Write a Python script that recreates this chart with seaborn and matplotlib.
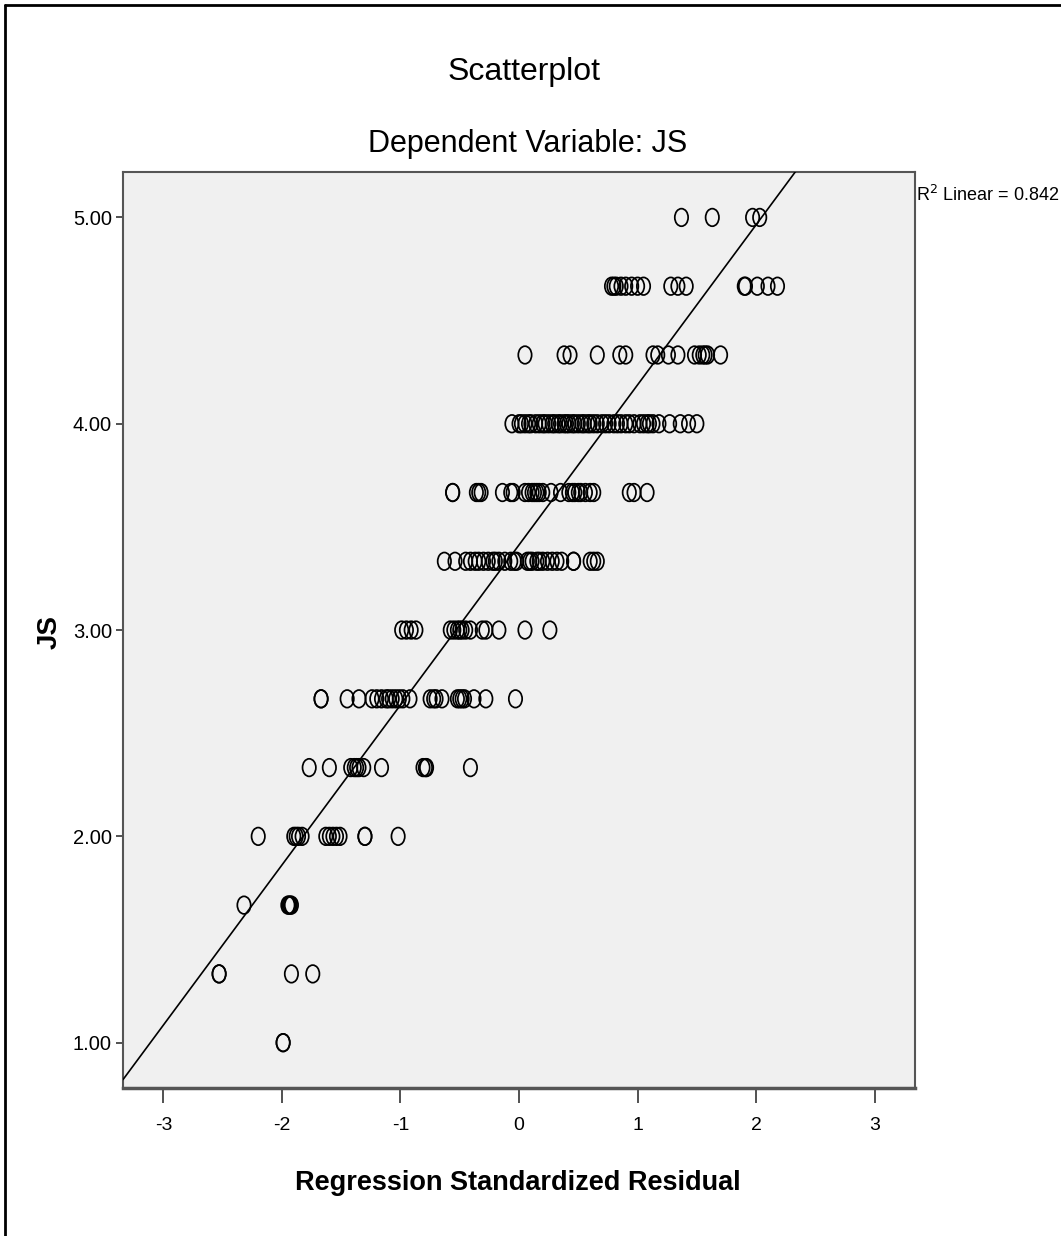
import numpy as np
import pandas as pd
import matplotlib
matplotlib.use("Agg")
import matplotlib.pyplot as plt
from matplotlib.path import Path
from matplotlib.transforms import Affine2D
from matplotlib.lines import Line2D
import seaborn as sns

# Standardized residuals observed at each JS score level
x_100 = [-1.99, -1.99]
x_133 = [-2.53, -2.53, -1.92, -1.74]
x_167 = [-2.32, -1.95, -1.94, -1.93, -1.92]
x_200 = [-2.20, -1.90, -1.88, -1.86, -1.83, -1.63, -1.60, -1.57, -1.54, -1.51,
         -1.30, -1.30, -1.02]
x_233 = [-1.77, -1.60, -1.42, -1.39, -1.37, -1.35, -1.31, -1.16, -0.81, -0.79,
         -0.78, -0.41]
x_267 = [-1.67, -1.67, -1.45, -1.35, -1.24, -1.20, -1.16, -1.12, -1.10, -1.07,
         -1.04, -1.01, -0.98, -0.92, -0.75, -0.72, -0.70, -0.65, -0.52, -0.50,
         -0.48, -0.46, -0.38, -0.28, -0.03]
x_300 = [-0.99, -0.95, -0.91, -0.87, -0.58, -0.55, -0.52, -0.50, -0.48, -0.45,
         -0.41, -0.31, -0.28, -0.17, 0.05, 0.26]
x_333 = [-0.63, -0.54, -0.45, -0.41, -0.37, -0.34, -0.30, -0.26, -0.22, -0.20,
         -0.17, -0.12, -0.07, -0.04, -0.02, 0.07, 0.09, 0.11, 0.15, 0.17,
         0.20, 0.24, 0.28, 0.32, 0.36, 0.46, 0.46, 0.60, 0.63, 0.66]
x_367 = [-0.56, -0.56, -0.36, -0.34, -0.32, -0.14, -0.07, -0.05, 0.05, 0.08,
         0.11, 0.13, 0.15, 0.17, 0.20, 0.27, 0.35, 0.42, 0.45, 0.47,
         0.50, 0.52, 0.56, 0.60, 0.63, 0.93, 0.97, 1.08]
x_400 = [-0.06, 0.00, 0.02, 0.05, 0.08, 0.10, 0.14, 0.17, 0.20, 0.22,
         0.25, 0.28, 0.30, 0.33, 0.35, 0.38, 0.40, 0.42, 0.45, 0.47,
         0.50, 0.53, 0.55, 0.58, 0.60, 0.63, 0.66, 0.70, 0.73, 0.76,
         0.80, 0.83, 0.86, 0.90, 0.93, 0.97, 1.02, 1.05, 1.08, 1.10,
         1.13, 1.18, 1.27, 1.36, 1.43, 1.50]
x_433 = [0.05, 0.38, 0.43, 0.66, 0.85, 0.90, 1.13, 1.17, 1.26, 1.34,
         1.48, 1.52, 1.55, 1.57, 1.59, 1.70]
x_467 = [0.78, 0.80, 0.82, 0.86, 0.90, 0.95, 1.00, 1.05, 1.28, 1.34,
         1.41, 1.90, 1.91, 2.01, 2.10, 2.18]
x_500 = [1.37, 1.63, 1.97, 2.03]

js_levels = [1.00, 4 / 3, 5 / 3, 2.00, 7 / 3, 8 / 3, 3.00, 10 / 3, 11 / 3,
             4.00, 13 / 3, 14 / 3, 5.00]
residual_groups = [x_100, x_133, x_167, x_200, x_233, x_267, x_300, x_333,
                   x_367, x_400, x_433, x_467, x_500]

x_ticks = [-3, -2, -1, 0, 1, 2, 3]
y_ticks = [1.00, 2.00, 3.00, 4.00, 5.00]
R2_LINEAR = 0.842

df = pd.DataFrame({
    "resid": [v for grp in residual_groups for v in grp],
    "JS": [lvl for lvl, grp in zip(js_levels, residual_groups) for _ in grp],
})

sns.set_theme(style="white")
plt.rcParams["font.family"] = ["Liberation Sans Narrow", "Liberation Sans", "DejaVu Sans"]
plt.rcParams["text.color"] = "black"
plt.rcParams["xtick.color"] = "black"
plt.rcParams["ytick.color"] = "black"

fig = plt.figure(figsize=(10.61, 12.36), dpi=100)
ax = fig.add_axes([0.116, 0.1197, 0.7464, 0.7411])
ax.set_facecolor("#f0f0f0")

# open oval marker
oval = Path.unit_circle().transformed(Affine2D().scale(0.76, 1.0))

ax.set_xlim(-3.34, 3.34)
ax.set_ylim(0.78, 5.22)

sns.scatterplot(data=df, x="resid", y="JS", ax=ax, marker=oval, s=160,
                facecolors="none", edgecolor="black", linewidth=1.25,
                legend=False, zorder=3)
sns.regplot(data=df, x="resid", y="JS", ax=ax, scatter=False, ci=None,
            truncate=False, line_kws=dict(color="black", lw=1.2, zorder=4))

ax.set_xlim(-3.34, 3.34)
ax.set_ylim(0.78, 5.22)
ax.set_xticks(x_ticks)
ax.set_xticklabels([str(t) for t in x_ticks])
ax.set_yticks(y_ticks)
ax.set_yticklabels([f"{t:.2f}" for t in y_ticks])
ax.tick_params(axis="x", direction="out", length=11, width=1.2, color="#333333",
               labelsize=14, pad=10, bottom=True)
ax.tick_params(axis="y", direction="out", length=5, width=1.2, color="#333333",
               labelsize=14.5, pad=3, left=True)
ax.set_xlabel("")
ax.set_ylabel("")
for side, sp in ax.spines.items():
    sp.set_visible(True)
    sp.set_color("#555555")
    sp.set_linewidth(1.5)
ax.spines["bottom"].set_linewidth(2.5)

fig.text(0.494, 0.935, "Scatterplot", ha="center", va="baseline", fontsize=23)
fig.text(0.497, 0.877, "Dependent Variable: JS", ha="center", va="baseline",
         fontsize=22)
fig.text(0.488, 0.037, "Regression Standardized Residual", ha="center",
         va="baseline", fontsize=19.5, fontweight="bold")
fig.text(0.047, 0.489, "JS", ha="center", va="center", rotation=90,
         fontsize=20, fontweight="bold")
fig.text(0.863, 0.842, f"R$^2$ Linear = {R2_LINEAR:.3f}", ha="left",
         va="center", fontsize=13)

# outer frame lines along the top and left edges
fig.add_artist(Line2D([0.005, 0.005], [0, 0.996], transform=fig.transFigure,
                      color="black", lw=2))
fig.add_artist(Line2D([0.005, 1.0], [0.996, 0.996], transform=fig.transFigure,
                      color="black", lw=2))

fig.savefig("out.png", dpi=100, facecolor="white")
